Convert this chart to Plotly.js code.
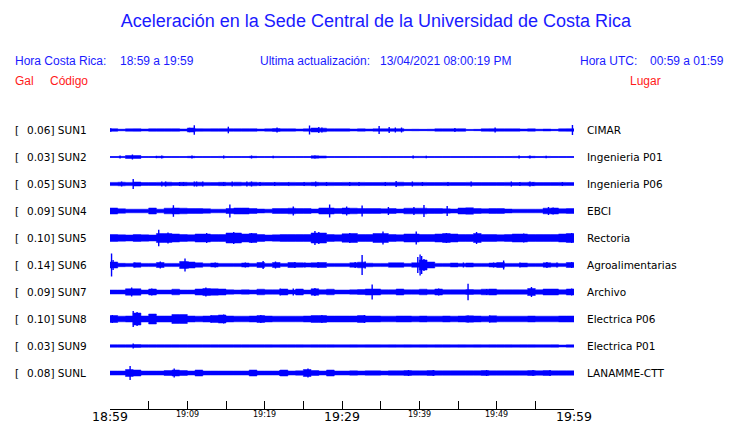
<!DOCTYPE html>
<html><head><meta charset="utf-8">
<script src="https://cdn.plot.ly/plotly-3.0.1.min.js"></script>
<style>html,body{margin:0;padding:0;background:#fff;}#chart{width:740px;height:423px;}</style>
</head><body><div id="chart"></div>
<script>
// ---- data ----
const stations = ["SUN1","SUN2","SUN3","SUN4","SUN5","SUN6","SUN7","SUN8","SUN9","SUNL"];
const places = ["CIMAR","Ingenieria P01","Ingenieria P06","EBCI","Rectoria","Agroalimentarias","Archivo","Electrica P06","Electrica P01","LANAMME-CTT"];
const peakGal = ["0.06","0.03","0.05","0.09","0.10","0.14","0.09","0.10","0.03","0.08"];
const tickMinutes = [0,10,20,30,40,50,60];
const tickLabels = ["18:59","19:09","19:19","19:29","19:39","19:49","19:59"];
const tickMajor = [true,false,false,true,false,false,true];

// envelope half-width per 1-minute bin (display units), minute 0..59
const env_SUN1 = [1.3,0.8,1.2,1.3,1.0,1.3,1.3,1.3,1.3,1.0, 2.0,1.3,1.2,1.3,1.3,1.3,1.3,1.3,1.3,1.0, 1.2,1.5,1.2,1.2,1.0,1.2,2.0,1.8,1.2,1.2, 1.2,1.0,1.2,1.0,1.2,1.2,1.3,1.3,0.7,0.8, 0.7,0.8,1.2,1.2,1.2,1.3,0.6,0.7,1.2,1.3, 1.2,1.2,1.2,1.0,1.2,0.8,1.0,0.7,1.2,1.3];
const env_SUN2 = [0.5,0.6,1.5,1.5,0.5,0.5,0.7,0.5,0.5,0.5, 0.7,0.5,0.5,0.5,0.6,0.5,0.5,0.5,0.7,0.5, 0.5,0.6,0.5,0.5,0.5,0.5,1.2,1.0,0.5,0.5, 0.5,0.5,0.5,0.5,0.5,0.5,0.5,0.5,0.5,0.6, 0.6,0.5,0.5,0.5,0.5,0.5,0.5,0.5,0.5,0.5, 0.5,0.5,0.6,0.5,0.7,0.5,0.6,0.5,0.5,0.5];
const env_SUN3 = [1.6,1.8,1.6,2.0,1.5,1.5,1.6,1.8,1.5,1.7, 1.6,1.8,1.6,1.5,1.7,1.6,1.8,1.6,1.8,1.6, 1.5,1.6,1.5,1.6,1.5,1.6,1.7,1.6,1.6,1.5, 1.6,1.6,1.6,1.5,1.5,1.6,1.6,1.8,1.5,1.6, 1.6,1.5,1.5,1.6,1.5,1.5,1.6,1.5,1.5,1.5, 1.5,1.6,1.5,1.6,1.7,1.5,1.5,1.5,1.6,1.5];
const env_SUN4 = [3,2.2,1.8,1.8,1.8,3,1.8,2.8,3,2.8, 2.5,2.5,2.2,1.8,1.8,2.5,3,3,2.5,2, 1.8,2.5,2.5,2.8,2.5,2.5,2,3,3,2.5, 3,2.8,2.5,2.5,2.5,2.2,2.5,2,2.8,2.8, 2.8,2.5,2.5,2.2,2,3,3.2,2.5,2.2,2.5, 2.5,2,1.8,1.8,1.8,1.8,2.8,3,2.2,2.5];
const env_SUN5 = [3.5,3.2,3,3.5,3.2,3,4.5,4.5,4,3.5, 3.2,4,4,3.5,3.5,5,5,4,4.5,3.5, 3,3.2,3.5,3.5,3.5,3.5,5,5,3.5,3.2, 4.2,4.5,3.5,3.5,4.5,4.5,3.5,3.2,4,4, 3.5,3.5,4,4.5,4,3.5,3.5,4.5,3.5,3.5, 3.2,3.5,4,4,3.5,3.5,3.5,3.5,4,4.5];
const env_SUN6 = [3,1.7,1.6,2.2,1.6,1.6,2.5,1.6,1.6,3.5, 3,2.2,1.6,2.0,1.6,1.6,1.6,2.0,1.6,2.5, 1.6,2.5,1.6,2.5,2.2,2.0,2.2,2.5,1.6,1.6, 1.6,2.2,2.8,1.8,1.6,1.6,2.2,2.2,1.6,2.2, 5,3,1.6,1.6,2,1.6,2,1.6,1.6,2.0, 2.5,1.6,1.6,2.0,1.6,1.6,2.2,1.8,1.6,2.5];
const env_SUN7 = [2,2,3.2,3.2,2,3,2,2,2.8,2, 2,3,3.5,3.2,3,2.2,2,2.2,2,2.8, 2.2,2.2,3,2,3,2,3.2,2.2,2.8,2, 2,2.2,2.5,3,3,2.2,2.2,3,2.2,2.2, 2.8,2.2,3,2.2,2.2,2.2,2.5,2.2,2.8,3, 2.2,2.2,2.2,2.2,3.5,2.2,3,3,2.2,3];
const env_SUN8 = [3.5,2.8,3,6,3,5,3,3,4.5,4.5, 3,2.8,3,3.5,4,3,2.8,2.8,3,3.5, 3,2.8,2.8,2.8,2.8,3,3.5,3.5,3,3, 3,3,3.5,3,3,2.8,2.8,3,3,2.8, 3,2.8,2.8,3,2.8,3,3.2,3,2.8,3.2, 2.8,2.8,2.8,2.8,3,2.8,2.8,2.8,3,3];
const env_SUN9 = [1.3,1.3,1.3,1.5,1.3,1.3,1.3,1.3,1.3,1.3, 1.3,1.3,1.3,1.3,1.3,1.3,1.3,1.3,1.3,1.3, 1.3,1.2,1.3,1.3,1.3,1.2,1.3,1.3,1.3,1.2, 1.2,1.3,1.2,1.3,1.3,1.2,1.3,1.2,1.3,1.2, 1.3,1.2,1.3,1.3,1.2,1.3,1.2,1.3,1.2,1.3, 1.3,1.3,1.2,1.3,1.3,1.2,1.2,1.3,1.0,1.2];
const env_SUNL = [2,2,3.5,3,2,2,2,2.5,3,2.5, 2,3,2,2,2,2,2,2,3,2, 2,2,3,2,2.2,3.5,2.5,2,3,2, 2,2.2,2,2.2,2.2,2,2.2,2.2,2.5,2.2, 2.2,2.5,2.2,2.2,2.2,2.2,2.2,2.2,2.5,2.2, 2.2,2.2,2.2,2.2,2.5,2.2,2.5,2.2,2.2,2.2];

// isolated spikes: [minute, half-amplitude]
const spk_SUN1 = [[0.1,1.8],[10.3,2.2],[10.9,4.7],[15.3,3.3],[21.6,2.5],[25.8,4.5],[27.0,3],[27.4,2.5],[34.8,4],[36.1,3],[36.9,2.5],[37.7,2.5],[44.6,2],[49.8,2.5],[59.8,5]];
const spk_SUN2 = [[1.3,1.5],[2.9,2.5],[6.0,1.2],[6.7,1.5],[10.6,1.5],[14.7,1.5],[18.3,1.5],[21.1,1.2],[26.5,1.5],[39.2,1.5],[40.9,1.2],[52.9,1.5],[54.3,1.5],[56.4,1.2]];
const spk_SUN3 = [[1.5,2.5],[3.0,5],[6.7,2.5],[7.2,2.5],[9.0,2],[9.5,2],[10.9,2.5],[11.2,2.5],[12.0,2.5],[14.7,2],[15.8,2.5],[17.7,2.5],[18.3,2.5],[19.4,2],[21.3,2],[23.1,1.8],[25.1,2],[26.6,2.5],[28.0,2],[31.0,2],[32.2,2],[35.6,2],[37.0,3],[39.1,2.5],[40.4,2],[43.7,2],[46.7,2.5],[51.9,2.5],[53.0,2],[54.3,2.5],[54.7,2],[58.5,2]];
const spk_SUN4 = [[8.2,5.8],[15.5,6.5],[23.7,4.5],[28.4,6.5],[30.6,4.5],[32.6,5.5],[36.0,4],[39.3,4],[40.6,6],[43.6,5],[56.7,4],[57.3,3.5]];
const spk_SUN5 = [[6.3,8.3],[7.5,5.5],[12.5,5],[16.0,6],[18.3,5],[26.5,7],[27.0,6],[31.0,5],[35.3,6.5],[39.6,6.5],[43.5,5],[47.4,6],[53.5,4.5],[59.7,5]];
const spk_SUN6 = [[0.2,11.5],[0.4,5],[3.2,2.5],[6.5,3.5],[9.7,6.5],[10.1,3.5],[10.7,3],[13.6,2.5],[17.5,2.5],[19.8,4],[21.4,3.5],[23.9,3],[25.2,2.5],[26.9,3],[31.7,3],[32.6,10],[33.0,3.5],[39.8,8],[40.1,10.5],[40.3,9],[40.6,6],[45.7,2.5],[49.6,2.5],[50.9,4.5],[53.0,2.5],[56.5,3],[57.8,2.5],[59.7,3]];
const spk_SUN7 = [[2.8,4.5],[5.4,3.5],[12.4,4.5],[22.0,3.5],[23.7,3.5],[26.5,4],[33.9,7.5],[37.5,3],[42.5,3.5],[46.3,8.3],[48.7,3],[54.5,5],[59.7,3.5]];
const spk_SUN8 = [[0.3,4],[3.0,8],[3.5,7],[5.5,5],[13.1,3.5],[14.7,4.5],[19.5,4],[27.4,4],[32.9,4],[46.3,3.5],[49.1,3.5]];
const spk_SUN9 = [[3.0,2.5]];
const spk_SUNL = [[2.6,7],[8.3,4.5],[11.4,3],[18.3,3],[22.0,3],[25.6,4.5],[28.4,3],[38.6,3],[41.8,3],[48.7,3],[54.7,3],[56.9,3]];

const envs = [env_SUN1,env_SUN2,env_SUN3,env_SUN4,env_SUN5,env_SUN6,env_SUN7,env_SUN8,env_SUN9,env_SUNL];
const spks = [spk_SUN1,spk_SUN2,spk_SUN3,spk_SUN4,spk_SUN5,spk_SUN6,spk_SUN7,spk_SUN8,spk_SUN9,spk_SUNL];

// ---- layout geometry (pixels) ----
const W = 740, H = 423;
const L = 110, R = 574, T = 115, B = 409;
const firstRow = 130, rowGap = 27;
const BLUE = '#0000ff', RED = '#ff1a1a', TXTBLUE = '#1a1aff';
const px = x => (x - L) / (R - L);
const py = y => (B - y) / (B - T);

const traces = [];
envs.forEach((env, i) => {
  const base = firstRow + rowGap * i;
  const xs = env.map((_, k) => k).concat([env.length]);
  const e = env.concat([env[env.length - 1]]);
  traces.push({x: xs, y: e.map(v => base + v), mode: 'lines', line: {color: BLUE, width: 0.5, shape: 'hv'}, hoverinfo: 'skip', showlegend: false});
  traces.push({x: xs, y: e.map(v => base - v), mode: 'lines', line: {color: BLUE, width: 0.5, shape: 'hv'}, fill: 'tonexty', fillcolor: BLUE, hoverinfo: 'skip', showlegend: false});
  traces.push({x: [0, 60], y: [base, base], mode: 'lines', line: {color: BLUE, width: 1}, hoverinfo: 'skip', showlegend: false});
  const s = spks[i];
  traces.push({x: s.map(p => p[0]), y: s.map(() => base), mode: 'markers', marker: {size: 1, color: BLUE},
    error_y: {type: 'data', symmetric: true, array: s.map(p => p[1]), color: BLUE, thickness: 1.4, width: 0, visible: true},
    hoverinfo: 'skip', showlegend: false});
});

const ann = [];
const F = 'Liberation Sans, Arial, sans-serif';
const D = 'DejaVu Sans, sans-serif';
const NUDGE = 2; // annotation inner padding compensation
function txt(text, x, y, size, color, anchor, family) {
  ann.push({text: text, xref: 'paper', yref: 'paper', x: px(x - NUDGE), y: py(y), xanchor: anchor || 'left', yanchor: 'middle',
    showarrow: false, font: {family: family || F, size: size, color: color}});
}
txt('Hora Costa Rica:', 15, 61, 12, TXTBLUE);
txt('18:59 a 19:59', 120, 61, 12, TXTBLUE);
txt('Ultima actualización:', 260, 61, 12, TXTBLUE);
txt('13/04/2021 08:00:19 PM', 380, 61, 12, TXTBLUE);
txt('Hora UTC:', 580, 61, 12, TXTBLUE);
txt('00:59 a 01:59', 650, 61, 12, TXTBLUE);
txt('Gal', 15, 81, 12, RED);
txt('Código', 50, 81, 12, RED);
txt('Lugar', 630, 81, 12, RED);

stations.forEach((st, i) => {
  const yv = firstRow + rowGap * i;
  txt('[', 15, yv, 10.5, '#000', 'left', D);
  txt(peakGal[i] + '] ' + st, 27, yv, 10.5, '#000', 'left', D);
  txt(places[i], 587, yv, 10.5, '#000', 'left', D);
});

tickMinutes.forEach((m, k) => {
  ann.push({text: tickLabels[k], xref: 'x', yref: 'paper', x: m, y: tickMajor[k] ? py(416.5) : py(414.5),
    xanchor: 'center', yanchor: 'middle', showarrow: false,
    font: {family: D, size: tickMajor[k] ? 12.5 : 8, color: '#000'}});
});

const layout = {
  width: W, height: H,
  margin: {l: L, r: W - R, t: T, b: H - B, pad: 0},
  paper_bgcolor: '#fff', plot_bgcolor: '#fff',
  title: {text: 'Aceleración en la Sede Central de la Universidad de Costa Rica', x: 0.508, xanchor: 'center', y: 1 - 21 / H, yanchor: 'middle',
    font: {family: F, size: 18, color: TXTBLUE}},
  xaxis: {range: [0, 60], showgrid: false, zeroline: false, showline: true, linecolor: '#000', linewidth: 1,
    ticks: 'inside', ticklen: 8, tickwidth: 1, tickcolor: '#000', dtick: 5, tick0: 0, showticklabels: false, fixedrange: true},
  yaxis: {range: [B, T], visible: false, showgrid: false, zeroline: false, fixedrange: true},
  annotations: ann,
  showlegend: false
};

Plotly.newPlot('chart', traces, layout, {staticPlot: true, displayModeBar: false});
</script>
</body></html>
